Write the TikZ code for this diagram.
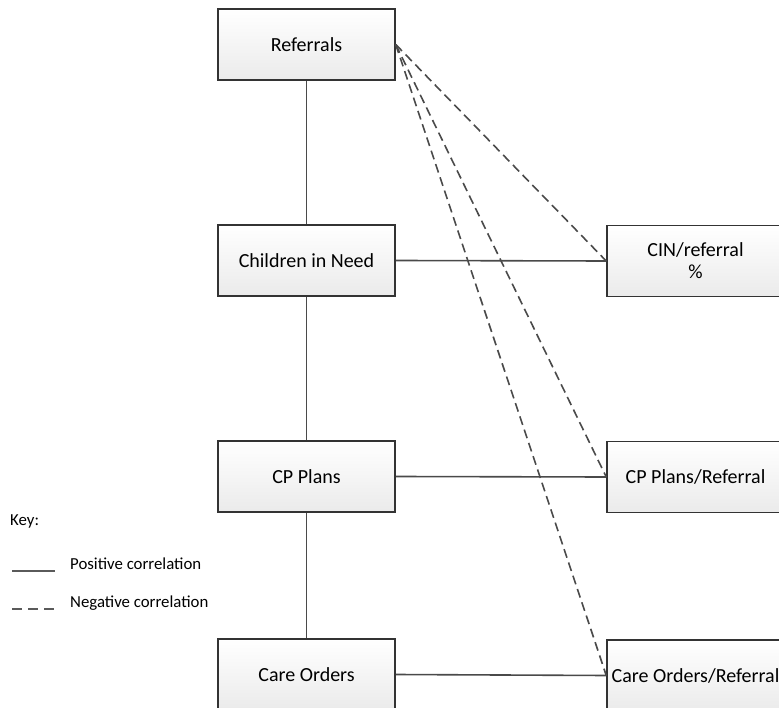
\documentclass[tikz,border=0pt]{standalone}
\usepackage{fontspec}
\setmainfont{Carlito}
\definecolor{linegray}{HTML}{4A4A4A}
\definecolor{keygray}{HTML}{5A5A5A}
\definecolor{boxedge}{HTML}{333333}
\begin{document}
\begin{tikzpicture}[x=1pt,y=-1pt,
  box/.style={draw=boxedge, line width=1.5pt, top color=white, bottom color=black!8,
    minimum width=177pt, minimum height=71pt, inner sep=0pt, font=\fontsize{20}{22}\selectfont, align=center},
  conn/.style={draw=linegray, line width=1.6pt},
  neg/.style={conn, dash pattern=on 9pt off 5pt},
  keyline/.style={draw=keygray, line width=1.3pt},
  keytext/.style={anchor=west, inner sep=0pt, font=\fontsize{16.8}{19}\selectfont}]
\useasboundingbox (0,0) rectangle (779,708);
\clip (0,0) rectangle (779,708);
% left column
\node[box] (ref) at (306.5,44.5) {Referrals};
\node[box] (cin) at (306.5,260.5) {Children in Need};
\node[box] (cp) at (306.5,476.5) {CP Plans};
\node[box] (co) at (306.5,674.5) {Care Orders};
% right column
\node[box] (cinr) at (695.5,261) {CIN/referral\\[0pt]\%};
\node[box] (cpr) at (695.5,477) {CP Plans/Referral};
\node[box] (cor) at (695.5,675.5) {Care Orders/Referral};
% connectors
\draw[conn] (ref.south) -- (cin.north);
\draw[conn] (cin.south) -- (cp.north);
\draw[conn] (cp.south) -- (co.north);
\draw[conn] (cin.east) -- (cinr.west);
\draw[conn] (cp.east) -- (cpr.west);
\draw[conn] (co.east) -- (cor.west);
\draw[neg] (ref.east) -- (cinr.west);
\draw[neg] (ref.east) -- (cpr.west);
\draw[neg] (ref.east) -- (cor.west);
% key
\node[keytext] (key) at (10,521) {Key:};
\coordinate (ps) at (12,571);
\coordinate (pe) at (55,571);
\coordinate (ns) at (12,609);
\coordinate (ne) at (55,609);
\draw[keyline] (ps) -- (pe);
\draw[keyline, dash pattern=on 10pt off 6pt] (ns) -- (ne);
\node[keytext] (pos) at (70,564) {Positive correlation};
\node[keytext] (negt) at (70,603) {Negative correlation};
\end{tikzpicture}
\end{document}
